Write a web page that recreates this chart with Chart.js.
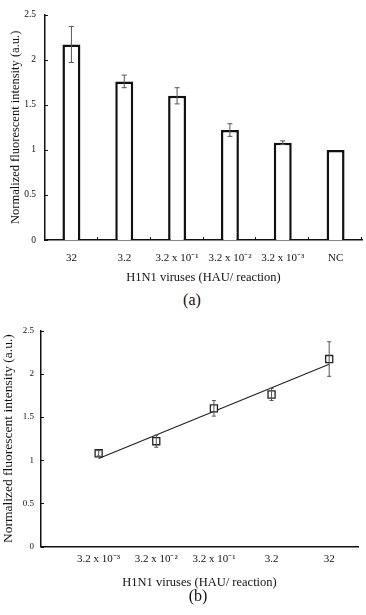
<!DOCTYPE html>
<html>
<head>
<meta charset="utf-8">
<script src="https://cdn.jsdelivr.net/npm/chart.js@4"></script>
<style>
  body { margin: 0; background: #fff; }
  #wrap { position: relative; width: 366px; height: 615px; }
  canvas { position: absolute; left: 0; }
  .cap { position: absolute; font: 16px "Liberation Serif", serif; color: #111; transform: translate(-50%, -50%); }
</style>
</head>
<body>
<div id="wrap">
  <canvas id="chartA" width="366" height="290" style="top:0"></canvas>
  <div class="cap" style="left:192px; top:300px">(a)</div>
  <canvas id="chartB" width="366" height="277" style="top:313px"></canvas>
  <div class="cap" style="left:198px; top:596px">(b)</div>
</div>
<script>
// values
const barLabels = ['32', '3.2', '3.2 x 10⁻¹', '3.2 x 10⁻²', '3.2 x 10⁻³', 'NC'];
const barValues = [2.17, 1.76, 1.60, 1.22, 1.08, 1.00];
const barErrors = [0.20, 0.07, 0.09, 0.07, 0.02, 0.00];

const fitLabels = ['3.2 x 10⁻³', '3.2 x 10⁻²', '3.2 x 10⁻¹', '3.2', '32'];
const fitX = [1, 2, 3, 4, 5];
const fitValues = [1.08, 1.22, 1.60, 1.76, 2.17];
const fitErrors = [0.03, 0.07, 0.09, 0.07, 0.20];
const trendX = [1, 5];
const trendY = [1.02, 2.11];

Chart.defaults.font.family = '"Liberation Serif", "Times New Roman", serif';
Chart.defaults.color = '#111';
Chart.defaults.devicePixelRatio = 1;

// error bars + inward tick marks
const extras = {
  id: 'extras',
  afterDatasetsDraw(chart, args, opts) {
    const ctx = chart.ctx;
    const xs = chart.scales.x, ys = chart.scales.y;
    ctx.save();
    ctx.strokeStyle = '#555';
    ctx.lineWidth = 1;
    opts.errors.forEach((e, i) => {
      if (!e) return;
      const x = xs.getPixelForValue(opts.xs ? opts.xs[i] : i);
      const v = opts.values[i];
      const y1 = ys.getPixelForValue(v + e), y2 = ys.getPixelForValue(v - e);
      ctx.beginPath();
      ctx.moveTo(x, y1); ctx.lineTo(x, y2);
      ctx.moveTo(x - opts.cap, y1); ctx.lineTo(x + opts.cap, y1);
      ctx.moveTo(x - opts.cap, y2); ctx.lineTo(x + opts.cap, y2);
      ctx.stroke();
    });
    ctx.strokeStyle = '#111';
    ctx.lineWidth = 1;
    ys.ticks.forEach(t => {
      const y = Math.round(ys.getPixelForValue(t.value)) + 0.5;
      ctx.beginPath();
      ctx.moveTo(xs.left, y); ctx.lineTo(xs.left + 3, y);
      ctx.stroke();
    });
    if (opts.catTicks) {
      const w = xs.getPixelForValue(1) - xs.getPixelForValue(0);
      for (let i = 0; i < barLabels.length; i++) {
        const x = Math.round(xs.getPixelForValue(i) + w / 2) - 0.5;
        ctx.beginPath();
        ctx.moveTo(x, ys.bottom); ctx.lineTo(x, ys.bottom - 3);
        ctx.stroke();
      }
    }
    ctx.restore();
  }
};

new Chart(document.getElementById('chartA'), {
  type: 'bar',
  data: {
    labels: barLabels,
    datasets: [{
      data: barValues,
      backgroundColor: '#fff',
      borderColor: '#111',
      borderWidth: 2.5,
      barPercentage: 0.34,
      categoryPercentage: 1
    }]
  },
  options: {
    responsive: false,
    animation: false,
    layout: { padding: { top: 6, right: 4, left: 0, bottom: 0 } },
    plugins: {
      legend: { display: false },
      tooltip: { enabled: false },
      extras: { errors: barErrors, values: barValues, cap: 2.5, catTicks: true }
    },
    scales: {
      x: {
        grid: { display: false, drawTicks: false },
        border: { color: '#111', width: 1.5 },
        ticks: { padding: 12, font: { size: 11 }, maxRotation: 0, autoSkip: false },
        title: { display: true, text: 'H1N1 viruses (HAU/ reaction)', font: { size: 12.5 }, padding: { top: 0, bottom: 5 } },
        afterFit: s => { s.height = 50; }
      },
      y: {
        min: 0, max: 2.5,
        grid: { display: false, drawTicks: false },
        border: { color: '#111', width: 1.5 },
        ticks: { stepSize: 0.5, padding: 9, font: { size: 9.5 }, callback: v => String(v) },
        title: { display: true, text: 'Normalized fluorescent intensity (a.u.)', font: { size: 12.5 }, padding: { top: 8, bottom: 0 } },
        afterFit: s => { s.width = 45; }
      }
    }
  },
  plugins: [extras]
});

new Chart(document.getElementById('chartB'), {
  type: 'scatter',
  data: {
    datasets: [{
      data: fitX.map((x, i) => ({ x: x, y: fitValues[i] })),
      pointStyle: 'rect',
      pointRadius: 5,
      pointBackgroundColor: '#fff',
      pointBorderColor: '#222',
      pointBorderWidth: 1.3,
      order: 1
    }, {
      type: 'line',
      data: trendX.map((x, i) => ({ x: x, y: trendY[i] })),
      borderColor: '#222',
      borderWidth: 1.2,
      pointRadius: 0,
      fill: false,
      order: 2
    }]
  },
  options: {
    responsive: false,
    animation: false,
    layout: { padding: { top: 17.5, right: 8, left: 0, bottom: 0 } },
    plugins: {
      legend: { display: false },
      tooltip: { enabled: false },
      extras: { errors: fitErrors, values: fitValues, xs: fitX, cap: 2 }
    },
    scales: {
      x: {
        type: 'linear', min: 0, max: 5.5,
        grid: { display: false, drawTicks: false },
        border: { color: '#111', width: 1.5 },
        afterBuildTicks: s => { s.ticks = fitX.map(v => ({ value: v })); },
        ticks: { padding: 6, font: { size: 11 }, maxRotation: 0, autoSkip: false,
                 callback: v => fitLabels[fitX.indexOf(v)] },
        title: { display: true, text: 'H1N1 viruses (HAU/ reaction)', font: { size: 12.5 }, padding: { top: 0, bottom: 0 } },
        afterFit: s => { s.height = 43.3; }
      },
      y: {
        min: 0, max: 2.5,
        grid: { display: false, drawTicks: false },
        border: { color: '#111', width: 1.5 },
        ticks: { stepSize: 0.5, padding: 7, font: { size: 9 }, callback: v => String(v) },
        title: { display: true, text: 'Normalized fluorescent intensity (a.u.)', font: { size: 13.5 }, padding: { top: 0, bottom: 0 } },
        afterFit: s => { s.width = 41; }
      }
    }
  },
  plugins: [extras]
});
</script>
</body>
</html>
